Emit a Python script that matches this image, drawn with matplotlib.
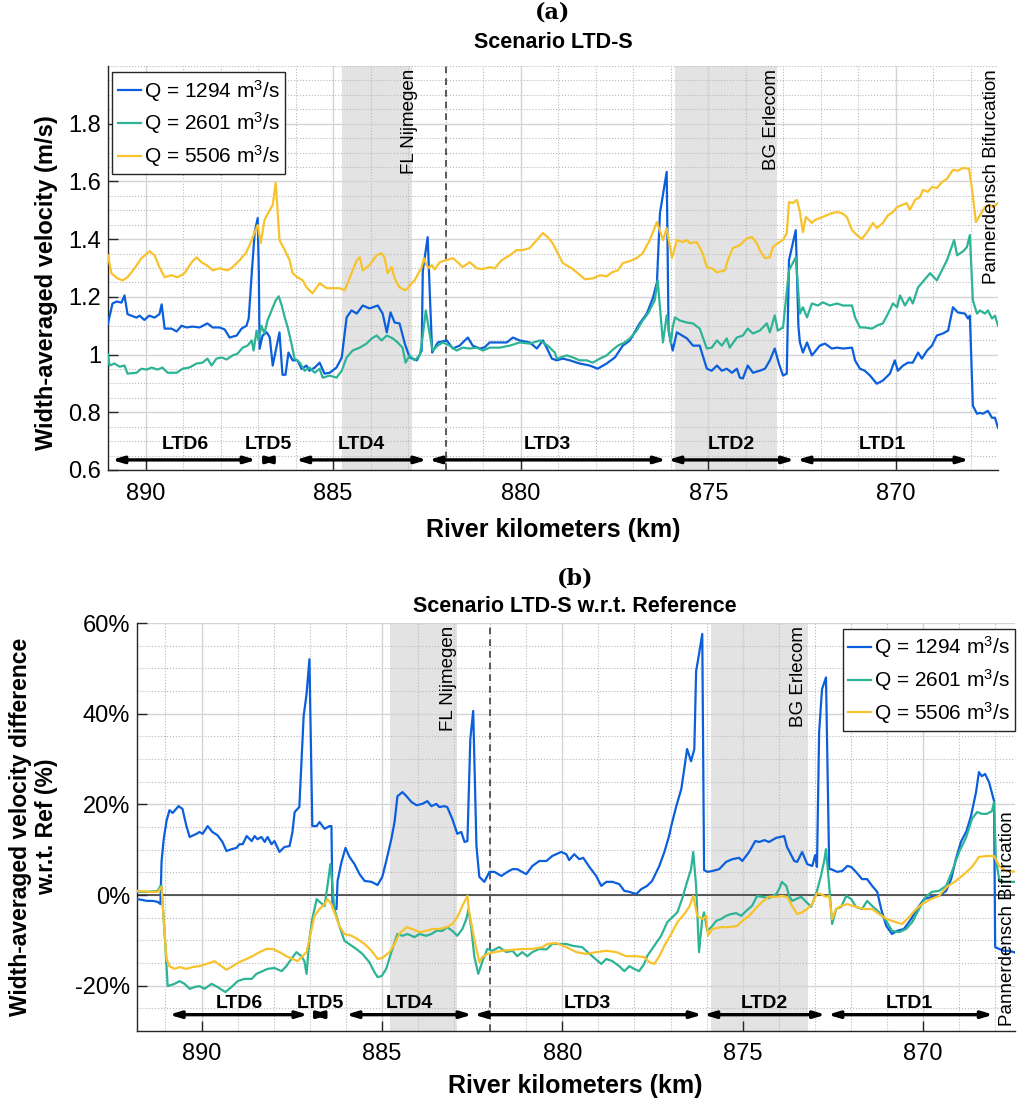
import matplotlib
matplotlib.use("Agg")
import matplotlib.pyplot as plt
from matplotlib.ticker import FixedLocator, MultipleLocator, FuncFormatter
from matplotlib.lines import Line2D

plt.rcParams["font.family"] = ["Liberation Sans", "DejaVu Sans"]
plt.rcParams["mathtext.fontset"] = "custom"
plt.rcParams["mathtext.rm"] = "Liberation Sans"
plt.rcParams["mathtext.default"] = "regular"
plt.rcParams["axes.unicode_minus"] = False

# ---------------- data: panel (a), width-averaged velocity (m/s) ----------------
KM_A_1294 = [891.0, 890.88, 890.77, 890.64, 890.56, 890.48, 890.24, 890.16, 890.03, 889.9, 889.76, 889.63,
             889.57, 889.49, 889.31, 889.17, 889.04, 888.91, 888.75, 888.56, 888.35, 888.21, 888.03, 887.89,
             887.76, 887.57, 887.44, 887.31, 887.25, 887.17, 887.09, 887.01, 886.98, 886.96, 886.88, 886.77,
             886.69, 886.61, 886.51, 886.43, 886.35, 886.27, 886.19, 886.08, 885.95, 885.84, 885.71, 885.63,
             885.49, 885.36, 885.23, 885.09, 884.91, 884.77, 884.64, 884.51, 884.37, 884.21, 884.03, 883.81,
             883.68, 883.57, 883.47, 883.36, 883.23, 883.09, 882.96, 882.77, 882.64, 882.61, 882.48, 882.42,
             882.36, 882.21, 881.97, 881.81, 881.63, 881.41, 881.28, 881.09, 880.96, 880.83, 880.56, 880.37,
             880.21, 880.03, 879.76, 879.57, 879.41, 879.31, 879.17, 879.04, 878.88, 878.69, 878.43, 878.16,
             877.95, 877.71, 877.49, 877.28, 877.09, 876.83, 876.64, 876.48, 876.37, 876.29, 876.11, 876.06,
             875.95, 875.84, 875.57, 875.41, 875.23, 875.04, 874.91, 874.77, 874.64, 874.51, 874.37, 874.24,
             874.16, 874.08, 873.95, 873.81, 873.63, 873.49, 873.36, 873.23, 873.12, 873.01, 872.91, 872.85,
             872.67, 872.6, 872.56, 872.48, 872.37, 872.24, 872.03, 871.89, 871.71, 871.57, 871.41, 871.17,
             871.09, 870.96, 870.83, 870.69, 870.51, 870.35, 870.16, 870.03, 869.95, 869.81, 869.68, 869.55,
             869.41, 869.31, 869.17, 869.04, 868.91, 868.75, 868.61, 868.48, 868.35, 868.16, 868.08, 868.03,
             867.95, 867.84, 867.76, 867.68, 867.55, 867.44, 867.36, 867.28]
V_A_1294 = [1.108, 1.177, 1.184, 1.18, 1.205, 1.14, 1.128, 1.135, 1.12, 1.135, 1.128, 1.14,
            1.174, 1.09, 1.09, 1.08, 1.1, 1.094, 1.097, 1.094, 1.108, 1.094, 1.094, 1.087,
            1.059, 1.066, 1.09, 1.1, 1.125, 1.28, 1.424, 1.473, 1.28, 1.02, 1.066, 1.077,
            1.06, 0.962, 1.025, 1.077, 0.93, 0.93, 1.007, 0.98, 0.98, 0.95, 0.962, 0.944,
            0.955, 0.972, 0.934, 0.937, 0.955, 0.99, 1.129, 1.153, 1.142, 1.17, 1.16, 1.17,
            1.142, 1.077, 1.146, 1.111, 1.108, 1.038, 0.99, 0.98, 1.014, 1.29, 1.407, 1.2,
            1.007, 1.042, 1.049, 1.021, 1.031, 1.059, 1.031, 1.021, 1.025, 1.042, 1.042, 1.042,
            1.059, 1.049, 1.042, 1.021, 1.049, 1.024, 0.986, 0.98, 0.986, 0.98, 0.969, 0.962,
            0.951, 0.969, 0.99, 1.031, 1.049, 1.108, 1.142, 1.195, 1.25, 1.49, 1.633, 1.083,
            1.014, 1.077, 1.056, 1.031, 1.031, 0.951, 0.944, 0.962, 0.944, 0.951, 0.937, 0.951,
            0.92, 0.917, 0.962, 0.937, 0.944, 0.951, 0.98, 1.021, 0.969, 0.927, 0.934, 1.327,
            1.431, 1.1, 1.042, 1.007, 1.042, 0.997, 1.031, 1.038, 1.021, 1.024, 1.021, 1.024,
            0.98, 0.951, 0.944, 0.927, 0.899, 0.91, 0.934, 0.98, 0.944, 0.962, 0.972, 0.972,
            1.007, 0.986, 1.014, 1.031, 1.066, 1.073, 1.083, 1.164, 1.146, 1.142, 1.125, 1.135,
            0.823, 0.795, 0.798, 0.795, 0.805, 0.781, 0.781, 0.746]

KM_A_2601 = [891.0, 890.96, 890.83, 890.69, 890.56, 890.48, 890.24, 890.11, 889.97, 889.84, 889.68, 889.55,
             889.41, 889.17, 889.01, 888.83, 888.64, 888.48, 888.35, 888.24, 888.11, 887.97, 887.84, 887.68,
             887.55, 887.41, 887.28, 887.17, 887.12, 887.04, 886.99, 886.91, 886.83, 886.75, 886.64, 886.53,
             886.45, 886.37, 886.29, 886.21, 886.11, 886.03, 885.89, 885.76, 885.63, 885.49, 885.36, 885.28,
             885.09, 884.91, 884.77, 884.64, 884.48, 884.29, 884.11, 883.97, 883.84, 883.71, 883.57, 883.41,
             883.28, 883.15, 883.07, 882.96, 882.83, 882.69, 882.61, 882.53, 882.43, 882.35, 882.21, 882.08,
             881.89, 881.71, 881.55, 881.36, 881.17, 881.01, 880.83, 880.56, 880.29, 880.03, 879.76, 879.49,
             879.28, 879.09, 879.04, 878.77, 878.61, 878.43, 878.24, 878.08, 877.89, 877.71, 877.57, 877.41,
             877.23, 877.09, 876.91, 876.75, 876.61, 876.43, 876.35, 876.21, 876.11, 876.0, 875.95, 875.89,
             875.76, 875.57, 875.41, 875.23, 875.04, 874.91, 874.77, 874.64, 874.51, 874.43, 874.24, 874.08,
             873.95, 873.81, 873.63, 873.44, 873.36, 873.23, 873.15, 873.01, 872.85, 872.67, 872.56, 872.48,
             872.37, 872.24, 872.08, 871.95, 871.76, 871.57, 871.41, 871.17, 871.09, 870.96, 870.83, 870.64,
             870.51, 870.35, 870.21, 870.08, 869.97, 869.89, 869.76, 869.63, 869.55, 869.41, 869.09, 868.91,
             868.64, 868.45, 868.37, 868.21, 868.11, 868.03, 867.95, 867.84, 867.76, 867.63, 867.55, 867.44,
             867.36, 867.28]
V_A_2601 = [1.0, 0.962, 0.969, 0.958, 0.962, 0.934, 0.937, 0.951, 0.948, 0.955, 0.948, 0.955,
            0.937, 0.937, 0.951, 0.955, 0.969, 0.972, 0.986, 0.962, 0.986, 0.99, 0.983, 0.997,
            1.003, 1.024, 1.031, 1.049, 1.014, 1.083, 1.049, 1.1, 1.073, 1.118, 1.153, 1.188,
            1.202, 1.17, 1.129, 1.094, 1.038, 0.986, 0.972, 0.944, 0.955, 0.937, 0.951, 0.92,
            0.927, 0.92, 0.944, 0.99, 1.014, 1.024, 1.038, 1.056, 1.066, 1.049, 1.066, 1.056,
            1.042, 1.024, 0.972, 0.997, 0.98, 0.997, 1.066, 1.153, 1.073, 1.014, 1.031, 1.042,
            1.031, 1.014, 1.024, 1.021, 1.024, 1.014, 1.024, 1.024, 1.031, 1.042, 1.038, 1.049,
            1.031, 1.007, 0.986, 0.997, 0.99, 0.98, 0.98, 0.972, 0.986, 0.997, 1.014, 1.031,
            1.042, 1.056, 1.083, 1.118, 1.142, 1.188, 1.257, 1.042, 1.136, 1.038, 1.094, 1.129,
            1.118, 1.111, 1.108, 1.09, 1.021, 1.024, 1.049, 1.031, 1.056, 1.024, 1.059, 1.066,
            1.09, 1.073, 1.083, 1.108, 1.077, 1.136, 1.083, 1.094, 1.292, 1.337, 1.142, 1.164,
            1.129, 1.177, 1.17, 1.181, 1.17, 1.177, 1.17, 1.17, 1.129, 1.094, 1.094, 1.09,
            1.1, 1.108, 1.142, 1.177, 1.164, 1.205, 1.17, 1.198, 1.177, 1.233, 1.282, 1.257,
            1.327, 1.397, 1.344, 1.358, 1.372, 1.414, 1.188, 1.142, 1.153, 1.142, 1.153, 1.125,
            1.135, 1.1]

KM_A_5506 = [891.0, 890.91, 890.75, 890.61, 890.48, 890.29, 890.11, 889.89, 889.76, 889.63, 889.49, 889.31,
             889.15, 888.96, 888.77, 888.64, 888.51, 888.37, 888.21, 888.03, 887.81, 887.68, 887.49, 887.31,
             887.17, 887.09, 887.01, 886.93, 886.83, 886.69, 886.61, 886.53, 886.43, 886.29, 886.16, 886.08,
             885.95, 885.81, 885.71, 885.55, 885.36, 885.17, 885.01, 884.83, 884.69, 884.51, 884.37, 884.29,
             884.21, 884.03, 883.84, 883.71, 883.63, 883.55, 883.44, 883.36, 883.23, 883.09, 883.01, 882.91,
             882.83, 882.64, 882.58, 882.51, 882.45, 882.37, 882.29, 882.16, 882.0, 881.81, 881.68, 881.55,
             881.36, 881.17, 881.01, 880.83, 880.69, 880.51, 880.29, 880.11, 879.95, 879.76, 879.57, 879.41,
             879.28, 879.15, 879.01, 878.88, 878.64, 878.48, 878.29, 878.08, 877.89, 877.71, 877.57, 877.41,
             877.28, 877.09, 876.91, 876.75, 876.56, 876.37, 876.21, 876.11, 875.97, 875.84, 875.68, 875.57,
             875.49, 875.31, 875.15, 875.04, 874.91, 874.77, 874.56, 874.48, 874.35, 874.16, 873.97, 873.84,
             873.71, 873.63, 873.49, 873.36, 873.28, 873.15, 873.01, 872.91, 872.85, 872.75, 872.64, 872.56,
             872.48, 872.4, 872.24, 872.16, 872.03, 871.84, 871.71, 871.57, 871.44, 871.31, 871.17, 871.04,
             870.91, 870.77, 870.61, 870.51, 870.35, 870.21, 870.08, 869.97, 869.84, 869.71, 869.63, 869.49,
             869.36, 869.28, 869.15, 869.04, 868.91, 868.77, 868.64, 868.48, 868.35, 868.21, 868.05, 867.97,
             867.87, 867.76, 867.63, 867.49, 867.41, 867.28]
V_A_5506 = [1.344, 1.282, 1.264, 1.257, 1.268, 1.299, 1.334, 1.358, 1.344, 1.303, 1.268, 1.275,
            1.268, 1.282, 1.32, 1.337, 1.32, 1.31, 1.292, 1.299, 1.292, 1.303, 1.327, 1.355,
            1.397, 1.424, 1.449, 1.386, 1.466, 1.501, 1.518, 1.595, 1.397, 1.362, 1.327, 1.282,
            1.268, 1.257, 1.233, 1.212, 1.247, 1.23, 1.23, 1.23, 1.223, 1.282, 1.327, 1.337,
            1.292, 1.31, 1.344, 1.351, 1.337, 1.282, 1.303, 1.264, 1.233, 1.223, 1.23, 1.247,
            1.257, 1.303, 1.334, 1.31, 1.3, 1.31, 1.295, 1.32, 1.327, 1.334, 1.32, 1.303,
            1.32, 1.299, 1.296, 1.303, 1.299, 1.327, 1.344, 1.362, 1.362, 1.369, 1.397, 1.421,
            1.407, 1.386, 1.351, 1.317, 1.299, 1.282, 1.261, 1.264, 1.275, 1.271, 1.285, 1.292,
            1.317, 1.324, 1.334, 1.351, 1.397, 1.459, 1.397, 1.438, 1.334, 1.397, 1.39, 1.397,
            1.386, 1.39, 1.351, 1.303, 1.299, 1.285, 1.292, 1.327, 1.369, 1.379, 1.403, 1.407,
            1.386, 1.362, 1.334, 1.337, 1.372, 1.386, 1.397, 1.421, 1.529, 1.525, 1.536, 1.494,
            1.424, 1.477, 1.456, 1.466, 1.473, 1.483, 1.49, 1.494, 1.49, 1.477, 1.431, 1.414,
            1.4, 1.424, 1.456, 1.438, 1.456, 1.483, 1.494, 1.511, 1.518, 1.525, 1.501, 1.536,
            1.546, 1.571, 1.564, 1.581, 1.577, 1.598, 1.609, 1.64, 1.637, 1.647, 1.644, 1.571,
            1.459, 1.483, 1.511, 1.518, 1.511, 1.525]

# ---------------- data: panel (b), difference w.r.t. reference (%) ----------------
KM_B_1294 = [891.77, 891.52, 891.36, 891.22, 891.14, 891.11, 891.05, 890.97, 890.89, 890.8, 890.64, 890.53,
             890.42, 890.33, 890.14, 890.06, 889.97, 889.83, 889.7, 889.56, 889.42, 889.31, 889.17, 889.03,
             888.95, 888.86, 888.75, 888.61, 888.53, 888.45, 888.34, 888.25, 888.17, 888.06, 887.98, 887.84,
             887.7, 887.56, 887.48, 887.42, 887.29, 887.17, 887.09, 887.01, 886.93, 886.81, 886.73, 886.59,
             886.45, 886.4, 886.37, 886.26, 886.23, 886.12, 886.01, 885.9, 885.76, 885.62, 885.48, 885.29,
             885.12, 884.99, 884.88, 884.74, 884.65, 884.57, 884.43, 884.32, 884.18, 884.04, 883.88, 883.74,
             883.63, 883.49, 883.41, 883.27, 883.19, 883.05, 882.91, 882.8, 882.71, 882.63, 882.55, 882.47,
             882.38, 882.3, 882.16, 882.02, 881.88, 881.69, 881.52, 881.38, 881.25, 881.0, 880.83, 880.64,
             880.44, 880.28, 880.03, 879.89, 879.81, 879.67, 879.53, 879.42, 879.25, 879.06, 878.92, 878.78,
             878.61, 878.42, 878.28, 878.14, 877.95, 877.81, 877.65, 877.51, 877.31, 877.17, 877.04, 876.98,
             876.84, 876.7, 876.54, 876.43, 876.34, 876.29, 876.21, 876.12, 876.07, 875.98, 875.84, 875.65,
             875.46, 875.29, 875.1, 875.01, 874.82, 874.65, 874.54, 874.4, 874.27, 874.07, 873.85, 873.77,
             873.57, 873.49, 873.35, 873.21, 873.07, 872.99, 872.94, 872.88, 872.8, 872.69, 872.6, 872.55,
             872.38, 872.24, 872.1, 871.99, 871.86, 871.69, 871.55, 871.41, 871.27, 871.16, 871.02, 870.86,
             870.72, 870.53, 870.33, 870.17, 869.97, 869.75, 869.56, 869.36, 869.22, 869.09, 868.95, 868.8,
             868.67, 868.53, 868.45, 868.37, 868.28, 868.17, 868.03, 868.0, 867.89, 867.76, 867.62, 867.48,
             867.37]
D_B_1294 = [-0.9, -1.3, -1.3, -1.5, -2.0, 7.3, 12.3, 16.4, 18.7, 18.1, 19.6, 19.0,
            15.2, 12.8, 13.5, 13.9, 13.5, 15.2, 13.9, 13.2, 11.7, 9.7, 10.1, 10.4,
            11.2, 11.2, 13.0, 11.9, 13.0, 12.3, 12.8, 11.7, 12.8, 11.2, 11.9, 9.5,
            10.6, 10.8, 13.9, 18.3, 19.4, 39.5, 44.3, 52.0, 15.2, 15.2, 16.1, 14.6,
            15.2, 15.2, -2.7, -3.1, 3.1, 7.3, 10.4, 8.4, 6.8, 4.6, 3.1, 2.9,
            2.2, 4.0, 7.5, 12.3, 16.1, 21.8, 22.7, 21.8, 20.5, 19.8, 20.1, 20.7,
            19.6, 20.1, 19.4, 19.6, 19.4, 16.8, 13.5, 13.9, 11.7, 11.9, 34.4, 40.6,
            10.8, 4.0, 2.9, 5.1, 5.1, 4.2, 5.1, 5.7, 5.7, 4.6, 6.4, 7.5,
            7.5, 8.6, 9.5, 9.0, 7.7, 9.0, 7.9, 8.2, 6.2, 4.2, 2.0, 2.9,
            2.9, 2.4, 0.9, 0.7, 0.2, 1.3, 2.0, 3.1, 6.4, 9.5, 13.0, 15.2,
            19.6, 23.4, 32.2, 29.5, 32.2, 49.4, 53.1, 57.6, 5.5, 5.1, 5.3, 5.7,
            7.3, 7.9, 8.2, 7.5, 9.5, 11.9, 11.7, 12.1, 11.7, 12.6, 13.0, 10.6,
            7.5, 7.3, 9.5, 6.8, 6.4, 8.8, 6.2, 35.9, 45.4, 48.0, 5.7, 5.7,
            5.1, 5.3, 6.4, 6.2, 5.1, 3.5, 3.5, 2.0, 0.7, -3.1, -6.8, -8.6,
            -7.9, -7.5, -5.3, -3.1, -0.9, -0.4, -0.2, 0.9, 3.5, 7.9, 11.7, 14.0,
            17.4, 22.7, 27.1, 26.2, 26.7, 24.9, 20.7, -11.5, -11.9, -12.3, -12.3, -12.6,
            -13.0]

KM_B_2601 = [891.77, 891.5, 891.22, 891.14, 891.11, 891.02, 890.94, 890.75, 890.61, 890.47, 890.33, 890.19,
             890.06, 889.92, 889.72, 889.56, 889.34, 889.17, 889.0, 888.81, 888.61, 888.48, 888.31, 888.17,
             887.98, 887.78, 887.65, 887.51, 887.37, 887.23, 887.15, 887.09, 887.01, 886.93, 886.81, 886.73,
             886.59, 886.51, 886.43, 886.37, 886.32, 886.18, 886.04, 885.84, 885.71, 885.54, 885.35, 885.21,
             885.12, 885.01, 884.88, 884.74, 884.57, 884.43, 884.29, 884.1, 883.96, 883.77, 883.63, 883.49,
             883.32, 883.19, 883.05, 882.91, 882.77, 882.66, 882.6, 882.52, 882.44, 882.33, 882.22, 882.08,
             881.94, 881.75, 881.55, 881.38, 881.25, 881.11, 880.97, 880.83, 880.64, 880.44, 880.28, 880.08,
             879.89, 879.72, 879.45, 879.17, 878.92, 878.78, 878.61, 878.42, 878.28, 878.14, 878.01, 877.87,
             877.73, 877.65, 877.45, 877.26, 877.09, 876.95, 876.81, 876.68, 876.54, 876.43, 876.37, 876.29,
             876.21, 876.12, 876.07, 875.98, 875.87, 875.73, 875.6, 875.46, 875.32, 875.18, 875.04, 874.9,
             874.74, 874.6, 874.46, 874.27, 874.07, 873.99, 873.91, 873.79, 873.71, 873.63, 873.52, 873.38,
             873.24, 873.1, 873.02, 872.94, 872.83, 872.74, 872.69, 872.6, 872.52, 872.41, 872.27, 872.13,
             871.99, 871.86, 871.69, 871.55, 871.41, 871.22, 871.02, 870.86, 870.66, 870.47, 870.3, 870.11,
             869.92, 869.75, 869.56, 869.36, 869.2, 869.0, 868.81, 868.64, 868.5, 868.37, 868.23, 868.09,
             868.03, 867.98, 867.89, 867.76, 867.56, 867.37]
D_B_2601 = [0.7, 0.7, 0.9, 2.0, 2.0, -9.0, -20.1, -19.6, -19.0, -19.6, -20.7, -20.3,
            -20.1, -20.7, -19.6, -20.3, -21.4, -20.3, -19.0, -18.5, -18.5, -17.4, -16.8, -16.3,
            -16.1, -16.8, -15.7, -14.1, -12.6, -13.5, -14.6, -17.4, -9.7, -5.3, -0.9, -1.5,
            -2.4, 2.0, 6.8, 2.0, -3.1, -6.8, -10.1, -11.2, -11.9, -13.0, -14.8, -17.0,
            -18.1, -17.9, -16.3, -12.6, -8.6, -9.0, -8.6, -9.3, -8.6, -9.0, -8.6, -7.9,
            -7.9, -7.1, -7.9, -9.0, -7.5, -5.3, -3.1, -7.5, -13.5, -17.4, -14.8, -11.9,
            -12.3, -11.5, -12.6, -12.3, -13.5, -12.6, -13.5, -12.6, -11.9, -12.0, -10.8, -10.8,
            -10.8, -11.2, -11.5, -13.5, -15.2, -14.1, -14.6, -15.7, -16.8, -15.7, -16.3, -16.8,
            -15.2, -13.5, -11.2, -9.0, -6.0, -4.9, -3.8, -0.9, 2.9, 5.7, 9.5, 2.0,
            -12.6, -5.3, -3.8, -7.9, -7.1, -5.7, -5.3, -4.6, -4.2, -4.0, -4.6, -3.5,
            -2.4, -0.2, -0.4, -0.7, 0.2, 1.3, 2.9, 2.0, -0.2, -1.3, -0.9, -0.4,
            -1.5, -2.6, -0.9, 0.9, 4.2, 7.5, 10.1, 2.0, -6.4, -3.1, -2.6, -0.2,
            -0.9, -2.6, -3.1, -1.3, -2.4, -3.8, -5.7, -7.9, -8.2, -7.5, -6.0, -3.1,
            -0.4, 0.7, 0.9, 2.0, 5.1, 9.5, 12.6, 16.8, 18.3, 17.9, 17.9, 18.5,
            20.5, 7.9, 3.5, 2.9, 2.9, 2.9]

KM_B_5506 = [891.77, 891.44, 891.22, 891.11, 891.02, 890.97, 890.89, 890.75, 890.61, 890.42, 890.25, 890.06,
             889.86, 889.64, 889.45, 889.31, 889.14, 888.95, 888.75, 888.59, 888.39, 888.2, 888.03, 887.84,
             887.65, 887.48, 887.34, 887.2, 887.09, 887.01, 886.87, 886.73, 886.59, 886.51, 886.4, 886.32,
             886.18, 886.04, 885.84, 885.68, 885.48, 885.29, 885.12, 884.99, 884.79, 884.65, 884.52, 884.32,
             884.16, 883.96, 883.77, 883.6, 883.41, 883.21, 883.05, 882.91, 882.77, 882.63, 882.58, 882.44,
             882.3, 882.22, 882.08, 881.88, 881.66, 881.38, 881.11, 880.83, 880.55, 880.42, 880.17, 879.89,
             879.61, 879.33, 879.06, 878.78, 878.5, 878.23, 877.95, 877.73, 877.59, 877.45, 877.31, 877.17,
             876.98, 876.81, 876.62, 876.48, 876.37, 876.26, 876.12, 876.01, 875.96, 875.84, 875.6, 875.37,
             875.15, 875.01, 874.82, 874.63, 874.46, 874.27, 874.07, 873.91, 873.77, 873.63, 873.49, 873.35,
             873.21, 873.07, 872.94, 872.83, 872.69, 872.6, 872.52, 872.41, 872.27, 872.1, 871.86, 871.63,
             871.41, 871.22, 871.0, 870.75, 870.58, 870.39, 870.19, 870.03, 869.78, 869.56, 869.34, 869.09,
             868.86, 868.64, 868.45, 868.23, 868.03, 867.89, 867.7, 867.37]
D_B_5506 = [0.9, 0.7, 0.7, 1.8, -9.0, -14.1, -15.7, -16.3, -15.9, -16.3, -15.9, -15.7,
            -15.2, -14.6, -15.7, -16.5, -15.7, -14.8, -14.1, -13.5, -12.6, -11.9, -11.9, -12.6,
            -13.5, -14.1, -14.6, -13.5, -12.6, -9.7, -4.6, -3.1, -2.0, -0.9, -2.0, -3.8,
            -6.8, -8.6, -9.0, -9.7, -10.8, -12.3, -14.1, -13.9, -12.6, -10.8, -8.6, -7.1,
            -7.5, -8.2, -7.9, -7.5, -7.5, -7.1, -6.4, -4.9, -2.4, -0.2, -3.8, -9.7,
            -14.8, -13.7, -13.0, -12.6, -12.3, -12.1, -11.9, -11.9, -11.5, -10.8, -10.6, -11.5,
            -12.6, -13.0, -12.6, -12.3, -12.6, -13.5, -13.5, -13.7, -14.8, -15.2, -13.5, -11.2,
            -8.6, -6.0, -4.2, -2.6, -0.2, -4.6, -5.3, -4.6, -9.0, -7.5, -7.1, -7.1,
            -6.8, -5.7, -4.6, -2.9, -1.5, -0.4, -0.4, -0.2, -0.4, -2.4, -4.2, -3.8,
            -3.1, -2.0, 0.4, 0.2, -0.4, -0.2, -5.3, -3.1, -2.4, -2.0, -2.6, -3.1,
            -3.1, -4.2, -5.3, -6.0, -6.4, -4.9, -3.1, -2.0, -0.9, -0.2, 1.8, 3.1,
            4.6, 6.2, 8.4, 8.6, 8.6, 6.4, 5.3, 5.1]

LABELS = ["Q = 1294 m$^3$/s", "Q = 2601 m$^3$/s", "Q = 5506 m$^3$/s"]
COLORS = ["#0b5fdd", "#2db396", "#f8c22c"]

# LTD stretches (start km, end km, label km) and reference places
LTD_NAMES = ["LTD6", "LTD5", "LTD4", "LTD3", "LTD2", "LTD1"]
LTD_START = [890.9, 886.97, 886.0, 882.45, 876.08, 872.64]
LTD_END = [887.05, 886.45, 882.5, 876.12, 872.7, 868.05]
LTD_LABEL_KM = [888.95, 886.72, 884.25, 879.3, 874.39, 870.37]
SHADED = [(884.77, 882.91), (875.88, 873.18)]
NIJMEGEN_KM = 882.0

W, H = 1019, 1104


def style_axes(ax, ymajor, yminor, ylabels):
    ax.set_axisbelow(True)
    ax.xaxis.set_major_locator(MultipleLocator(5))
    ax.xaxis.set_minor_locator(MultipleLocator(1))
    ax.yaxis.set_major_locator(FixedLocator(ymajor))
    ax.yaxis.set_minor_locator(MultipleLocator(yminor))
    ax.yaxis.set_major_formatter(FuncFormatter(lambda v, p: ylabels.get(round(v, 3), "")))
    ax.grid(which="major", color="#d4d4d4", linewidth=1.0, linestyle="-")
    ax.grid(which="minor", color="#b8b8b8", linewidth=0.8, linestyle=":")
    for side in ("top", "right"):
        ax.spines[side].set_visible(False)
    for side in ("left", "bottom"):
        ax.spines[side].set_color("#262626")
        ax.spines[side].set_linewidth(1.0)
    ax.tick_params(which="major", direction="in", length=7, width=1.0, labelsize=17, color="#262626")
    ax.tick_params(axis="x", which="major", pad=9)
    ax.tick_params(axis="y", which="major", pad=5)
    ax.tick_params(which="minor", length=0)


def add_common(ax, arrow_y, label_y, text_y, bif_y, bif_va, nij_km, erl_km, bif_km):
    for lo, hi in SHADED:
        ax.axvspan(lo, hi, color="#e3e3e3", zorder=0, linewidth=0)
    ax.axvline(NIJMEGEN_KM, color="#404040", linestyle=(0, (4, 3)), linewidth=1.2, zorder=1)
    for name, start, end, lab in zip(LTD_NAMES, LTD_START, LTD_END, LTD_LABEL_KM):
        ax.annotate("", xy=(end, arrow_y), xytext=(start, arrow_y),
                    arrowprops=dict(arrowstyle="<|-|>,head_length=0.6,head_width=0.18",
                                    color="black", lw=2.4, shrinkA=0, shrinkB=0,
                                    mutation_scale=11), zorder=4)
        ax.text(lab, label_y, name, ha="center", va="center", fontsize=14,
                fontweight="bold", zorder=5)
    ax.text(nij_km, text_y, "FL Nijmegen", rotation=90, ha="center", va="top", fontsize=13.5)
    ax.text(erl_km, text_y, "BG Erlecom", rotation=90, ha="center", va="top", fontsize=13.5)
    ax.text(bif_km, bif_y, "Pannerdensch Bifurcation", rotation=90, ha="center", va=bif_va,
            fontsize=13.5)


fig = plt.figure(figsize=(W / 100, H / 100), dpi=100)

# ---------------- panel (a) ----------------
ax1 = fig.add_axes([108 / W, 1 - 470 / H, 890 / W, 404 / H])
for km, v, col, lab in zip([KM_A_1294, KM_A_2601, KM_A_5506], [V_A_1294, V_A_2601, V_A_5506],
                           COLORS, LABELS):
    ax1.plot(km, v, color=col, linewidth=1.6, label=lab, zorder=3)
ax1.set_xlim(891.0, 867.28)
ax1.set_ylim(0.6, 2.0)
style_axes(ax1, [0.6, 0.8, 1.0, 1.2, 1.4, 1.6, 1.8], 0.05,
           {0.6: "0.6", 0.8: "0.8", 1.0: "1", 1.2: "1.2", 1.4: "1.4", 1.6: "1.6", 1.8: "1.8"})
add_common(ax1, 0.635, 0.69, 1.99, 1.99, "top", 882.96, 873.31, 867.44)
ax1.set_xlabel("River kilometers (km)", fontsize=18, fontweight="bold")
ax1.xaxis.set_label_coords(0.5, -0.118)
ax1.set_ylabel("Width-averaged velocity (m/s)", fontsize=17, fontweight="bold")
ax1.yaxis.set_label_coords(-0.056, 0.465)
handles = [Line2D([], [], color=c, linewidth=1.6) for c in COLORS]
leg1 = ax1.legend(handles, LABELS, loc="upper left", bbox_to_anchor=(0.005, 0.984), borderaxespad=0,
                  fontsize=15, frameon=True, fancybox=False, edgecolor="#262626", framealpha=1,
                  handlelength=1.1, handletextpad=0.15, borderpad=0.25, labelspacing=0.33)
leg1.get_frame().set_linewidth(1.0)

fig.text(553 / W, 1 - 13 / H, "(a)", ha="center", va="center", fontsize=16, fontweight="bold",
         family="DejaVu Serif")
fig.text(553 / W, 1 - 42 / H, "Scenario LTD-S", ha="center", va="center", fontsize=15.5,
         fontweight="bold")

# ---------------- panel (b) ----------------
ax2 = fig.add_axes([137 / W, 1 - 1031 / H, 878 / W, 408 / H])
for km, d, col, lab in zip([KM_B_1294, KM_B_2601, KM_B_5506], [D_B_1294, D_B_2601, D_B_5506],
                           COLORS, LABELS):
    ax2.plot(km, d, color=col, linewidth=1.6, label=lab, zorder=3)
ax2.axhline(0, color="#303030", linewidth=1.1, zorder=2)
ax2.set_xlim(891.79, 867.45)
ax2.set_ylim(-30, 60)
style_axes(ax2, [-20, 0, 20, 40, 60], 5,
           {-20: "-20%", 0: "0%", 20: "20%", 40: "40%", 60: "60%"})
add_common(ax2, -26.4, -23.9, 59.3, -28.9, "bottom", 883.15, 873.44, 867.66)
ax2.set_xlabel("River kilometers (km)", fontsize=18, fontweight="bold")
ax2.xaxis.set_label_coords(0.499, -0.106)
ax2.set_ylabel("Width-averaged velocity difference\nw.r.t. Ref (%)", fontsize=16.5,
               fontweight="bold", linespacing=1.15)
ax2.yaxis.set_label_coords(-0.09, 0.5)
leg2 = ax2.legend(handles, LABELS, loc="upper right", bbox_to_anchor=(1.0, 0.985), borderaxespad=0,
                  fontsize=15, frameon=True, fancybox=False, edgecolor="#262626", framealpha=1,
                  handlelength=1.1, handletextpad=0.15, borderpad=0.25, labelspacing=0.33)
leg2.get_frame().set_linewidth(1.0)

fig.text(575 / W, 1 - 578 / H, "(b)", ha="center", va="center", fontsize=16, fontweight="bold",
         family="DejaVu Serif")
fig.text(575 / W, 1 - 606 / H, "Scenario LTD-S w.r.t. Reference", ha="center", va="center",
         fontsize=15.5, fontweight="bold")

fig.savefig("out.png", dpi=100)
